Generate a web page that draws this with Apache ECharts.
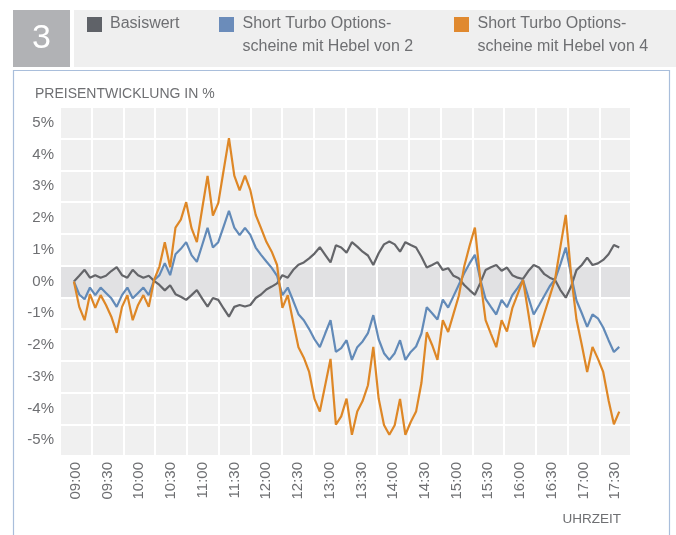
<!DOCTYPE html>
<html>
<head>
<meta charset="utf-8">
<script src="https://cdn.jsdelivr.net/npm/echarts@6/dist/echarts.min.js"></script>
<style>
html,body{margin:0;padding:0;background:#fff;}
#chart{width:676px;height:535px;}
</style>
</head>
<body>
<div id="chart"></div>
<script>
// Tick labels
const timeLabels = ['09:00','09:30','10:00','10:30','11:00','11:30','12:00','12:30','13:00','13:30','14:00','14:30','15:00','15:30','16:00','16:30','17:00','17:30'];
const yLabels = ['-5%','-4%','-3%','-2%','-1%','0%','1%','2%','3%','4%','5%'];

// Series values (percent), one point every 5 minutes from 09:00 to 17:30
const basiswert = [
 0, 0.18, 0.37, 0.12, 0.2, 0.12, 0.18, 0.33, 0.45, 0.2,
 0.12, 0.37, 0.2, 0.12, 0.18, 0.02, -0.11, -0.28, -0.12, -0.4,
 -0.48, -0.58, -0.43, -0.27, -0.54, -0.79, -0.52, -0.58, -0.85, -1.11,
 -0.8, -0.74, -0.79, -0.74, -0.52, -0.41, -0.25, -0.16, -0.06, 0.2,
 0.12, 0.36, 0.53, 0.6, 0.73, 0.88, 1.08, 0.84, 0.6, 1.14,
 1.07, 0.91, 1.24, 1.1, 0.94, 0.82, 0.52, 0.89, 1.17, 1.26,
 1.17, 0.94, 1.24, 1.15, 1.07, 0.78, 0.44, 0.52, 0.61, 0.36,
 0.42, 0.18, 0.1, -0.11, -0.27, -0.42, -0.05, 0.36, 0.45, 0.52,
 0.34, 0.44, 0.2, 0.12, 0.08, 0.33, 0.52, 0.44, 0.23, 0.12,
 0.05, -0.27, -0.51, -0.16, 0.36, 0.52, 0.75, 0.52, 0.57, 0.68,
 0.86, 1.15, 1.07
];
const hebel2 = [
 0, -0.41, -0.56, -0.19, -0.43, -0.19, -0.36, -0.53, -0.8, -0.43,
 -0.19, -0.53, -0.36, -0.19, -0.43, 0.04, 0.2, 0.58, 0.2, 0.86,
 1.03, 1.24, 0.83, 0.62, 1.15, 1.69, 1.07, 1.24, 1.73, 2.23,
 1.7, 1.46, 1.69, 1.47, 1.07, 0.84, 0.63, 0.43, 0.18, -0.43,
 -0.19, -0.6, -1.03, -1.22, -1.5, -1.82, -2.07, -1.64, -1.22, -2.22,
 -2.1, -1.85, -2.47, -2.07, -1.89, -1.63, -1.06, -1.82, -2.26, -2.47,
 -2.26, -1.85, -2.47, -2.22, -2.05, -1.64, -0.81, -1.0, -1.2, -0.57,
 -0.82, -0.46, -0.1, 0.26, 0.57, 0.84, 0.08, -0.55, -0.8, -1.04,
 -0.58, -0.81, -0.43, -0.2, 0.05, -0.5, -1.04, -0.75, -0.45, -0.15,
 0.07, 0.55, 1.07, 0.2, -0.6, -1.0, -1.43, -1.04, -1.16, -1.45,
 -1.85, -2.22, -2.06
];
const hebel4 = [
 0, -0.8, -1.22, -0.4, -0.83, -0.43, -0.74, -1.11, -1.62, -0.8,
 -0.43, -1.22, -0.74, -0.43, -0.8, 0.05, 0.47, 1.24, 0.45, 1.7,
 1.95, 2.5, 1.68, 1.24, 2.3, 3.33, 2.08, 2.47, 3.5, 4.52,
 3.34, 2.87, 3.34, 2.88, 2.1, 1.68, 1.25, 0.94, 0.52, -0.83,
 -0.43, -1.27, -2.07, -2.4, -2.85, -3.7, -4.1, -3.27, -2.44, -4.51,
 -4.25, -3.69, -4.83, -4.1, -3.77, -3.27, -2.06, -3.69, -4.52, -4.83,
 -4.53, -3.7, -4.83, -4.43, -4.1, -3.2, -1.6, -2.0, -2.47, -1.22,
 -1.59, -1.02, -0.45, 0.47, 1.12, 1.7, 0.08, -1.22, -1.65, -2.07,
 -1.22, -1.58, -0.84, -0.4, 0.05, -1.0, -2.07, -1.55, -1.0, -0.47,
 0.07, 1.1, 2.1, 0.2, -1.2, -2.0, -2.85, -2.06, -2.43, -2.85,
 -3.74, -4.5, -4.1
];
const seriesNames = ['Basiswert', 'Short Turbo Options-\nscheine mit Hebel von 2', 'Short Turbo Options-\nscheine mit Hebel von 4'];

// minutes after 09:00 for each sample (5-minute steps)
const minutes = basiswert.map((_, i) => i * 5);
const pairs = arr => arr.map((v, i) => [minutes[i], v]);

const FONT = "'Liberation Sans', Arial, sans-serif";
const TXT = '#6e6f72';
const C_GRAY = '#646569', C_BLUE = '#628ab8', C_ORANGE = '#de8726';

const bandColors = yLabels.map(l => l === '0%' ? '#e1e1e3' : '#f0f0f0');

const chart = echarts.init(document.getElementById('chart'), null, {renderer: 'canvas'});
chart.setOption({
  animation: false,
  backgroundColor: '#ffffff',
  textStyle: {fontFamily: FONT},
  grid: {left: 60, top: 107, right: 45, bottom: 79, show: true, backgroundColor: '#f0f0f0', borderWidth: 0},
  xAxis: [
    {
      type: 'category', data: timeLabels, boundaryGap: true, z: 3,
      axisLine: {show: false}, axisTick: {show: false},
      axisLabel: {rotate: 90, margin: 6, fontSize: 15, color: TXT, fontFamily: FONT, interval: 0},
      splitLine: {show: true, interval: 0, lineStyle: {color: '#ffffff', width: 2}}
    },
    {type: 'value', min: -13, max: 521, show: false}
  ],
  yAxis: [
    {
      type: 'category', data: yLabels, boundaryGap: true, z: 2,
      axisLine: {show: false}, axisTick: {show: false},
      axisLabel: {margin: 6, fontSize: 15, color: TXT, fontFamily: FONT, interval: 0},
      splitLine: {show: true, interval: 0, lineStyle: {color: '#ffffff', width: 2}},
      splitArea: {show: true, interval: 0, areaStyle: {color: bandColors}}
    },
    {type: 'value', min: -5.5, max: 5.5, show: false}
  ],
  series: [
    {name: seriesNames[0], type: 'line', xAxisIndex: 1, yAxisIndex: 1, data: pairs(basiswert), showSymbol: false, symbol: 'none', z: 5,
     lineStyle: {color: C_GRAY, width: 2.2}, itemStyle: {color: C_GRAY}},
    {name: seriesNames[1], type: 'line', xAxisIndex: 1, yAxisIndex: 1, data: pairs(hebel2), showSymbol: false, symbol: 'none', z: 5,
     lineStyle: {color: C_BLUE, width: 2.2}, itemStyle: {color: C_BLUE}},
    {name: seriesNames[2], type: 'line', xAxisIndex: 1, yAxisIndex: 1, data: pairs(hebel4), showSymbol: false, symbol: 'none', z: 5,
     lineStyle: {color: C_ORANGE, width: 2.2}, itemStyle: {color: C_ORANGE}}
  ],
  graphic: [
    // panel frame
    {type: 'rect', shape: {x: 13.5, y: 70.5, width: 656, height: 480}, style: {fill: 'none', stroke: '#a9bedb', lineWidth: 1.2}, z: 0},
    // number box
    {type: 'rect', shape: {x: 13, y: 10, width: 57, height: 57}, style: {fill: '#b1b2b5'}, z: 1},
    {type: 'text', x: 41.5, y: 39, style: {text: '3', fill: '#ffffff', font: "300 34px " + FONT, align: 'center', verticalAlign: 'middle'}, z: 2},
    // legend band
    {type: 'rect', shape: {x: 74, y: 10, width: 602, height: 57}, style: {fill: '#efefef'}, z: 1},
    {type: 'rect', shape: {x: 87, y: 17, width: 15, height: 15}, style: {fill: '#5f6268'}, z: 2},
    {type: 'text', x: 110, y: 12.5, style: {text: seriesNames[0], fill: TXT, font: "16px " + FONT, lineHeight: 23, verticalAlign: 'top'}, z: 2},
    {type: 'rect', shape: {x: 219, y: 17, width: 15, height: 15}, style: {fill: '#6b8cba'}, z: 2},
    {type: 'text', x: 242.5, y: 12.5, style: {text: seriesNames[1], fill: TXT, font: "16px " + FONT, lineHeight: 23, verticalAlign: 'top'}, z: 2},
    {type: 'rect', shape: {x: 454, y: 17, width: 15, height: 15}, style: {fill: '#e0892f'}, z: 2},
    {type: 'text', x: 477.5, y: 12.5, style: {text: seriesNames[2], fill: TXT, font: "16px " + FONT, lineHeight: 23, verticalAlign: 'top'}, z: 2},
    // axis titles
    {type: 'text', x: 35, y: 94, style: {text: 'PREISENTWICKLUNG IN %', fill: TXT, font: "14px " + FONT, verticalAlign: 'middle'}, z: 2},
    {type: 'text', x: 621, y: 519.5, style: {text: 'UHRZEIT', fill: TXT, font: "13.5px " + FONT, align: 'right', verticalAlign: 'middle'}, z: 2}
  ]
});
</script>
</body>
</html>
